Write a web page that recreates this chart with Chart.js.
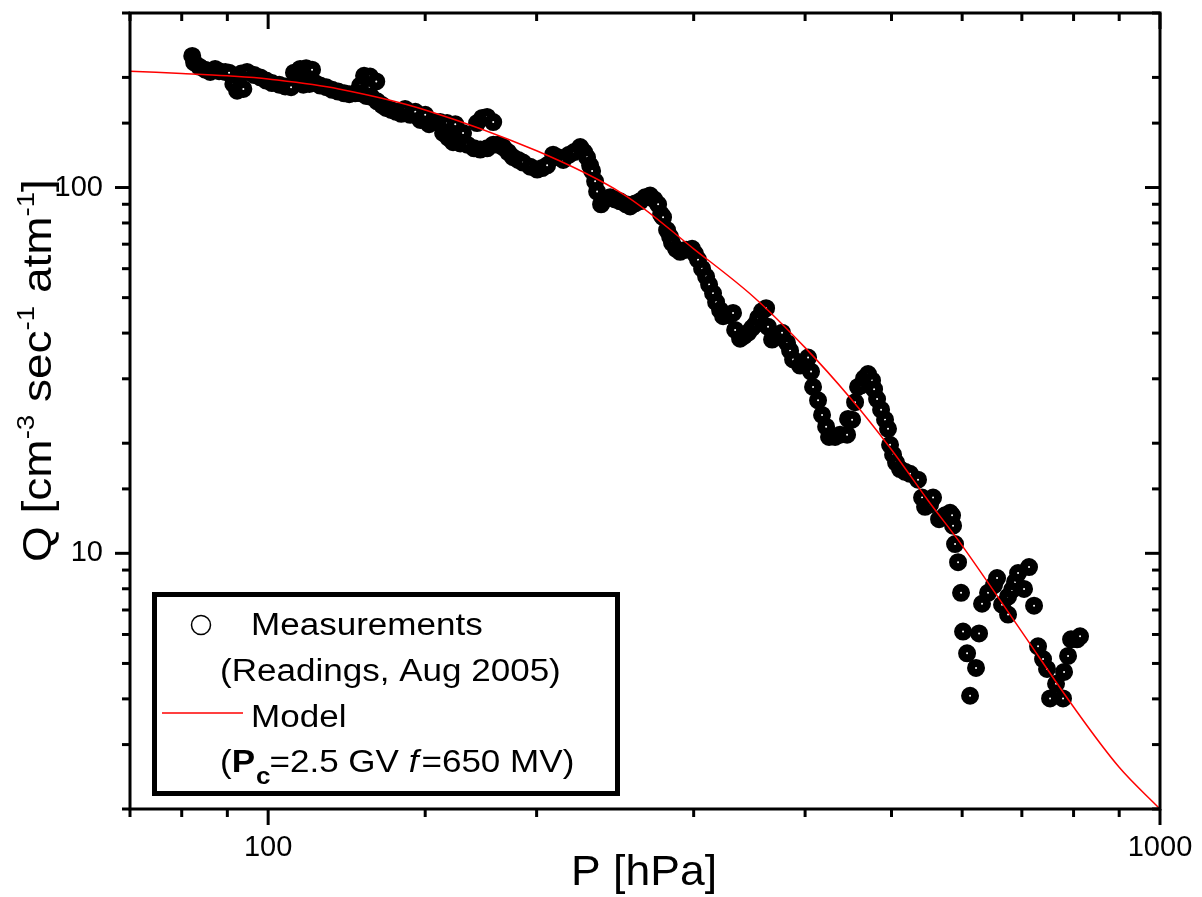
<!DOCTYPE html>
<html>
<head>
<meta charset="utf-8">
<script src="https://cdn.jsdelivr.net/npm/chart.js@4.4.0/dist/chart.umd.min.js"></script>
<style>
  html, body { margin: 0; padding: 0; background: #fff; }
</style>
</head>
<body>
<canvas id="myChart" width="1202" height="897"></canvas>
<script>
// measurements: pressure [hPa] and count rate Q [cm-3 sec-1 atm-1]
const pressure = [
  82.2, 82.6, 83.7, 85.0, 86.1, 87.2, 88.1, 89.5, 90.4, 91.4,
  92.3, 93.8, 93.3, 94.7, 96.5, 98.0, 99.5, 101.0, 102.9, 104.5,
  106.1, 106.9, 108.6, 110.3, 112.0, 109.5, 111.2, 112.9, 114.4, 116.2,
  118.0, 119.8, 121.7, 123.3, 125.2, 126.8, 128.1, 130.1, 132.2, 127.1,
  128.8, 130.5, 132.5, 134.2, 135.6, 137.4, 139.2, 141.0, 142.4, 144.3,
  146.2, 148.1, 150.0, 151.5, 153.9, 155.9, 158.7, 162.1, 165.4, 157.1,
  159.2, 161.2, 164.2, 167.2, 170.2, 172.9, 171.5, 173.8, 176.0, 178.8,
  176.0, 178.8, 181.1, 183.4, 185.8, 188.2, 190.7, 193.1, 196.7, 200.3,
  202.9, 205.5, 208.7, 211.4, 214.2, 217.5, 220.3, 223.8, 226.1, 227.8,
  229.6, 230.8, 232.6, 233.8, 236.2, 238.7, 241.8, 244.9, 248.1, 252.0,
  254.6, 257.9, 261.2, 264.6, 268.1, 270.9, 273.7, 275.8, 277.2, 280.1,
  282.3, 283.7, 286.7, 289.7, 294.2, 298.8, 301.1, 303.4, 306.6, 309.8,
  312.2, 315.4, 317.9, 321.2, 323.7, 327.9, 332.1, 333.9, 338.2, 341.7,
  345.3, 348.8, 351.5, 354.3, 358.0, 361.7, 363.5, 367.3, 372.1, 376.9,
  381.8, 384.8, 387.8, 394.8, 398.9, 403.1, 406.2, 408.3, 413.6, 417.9,
  422.3, 425.5, 432.2, 437.8, 445.8, 446.9, 451.6, 455.1, 458.6, 462.2,
  465.8, 470.6, 475.5, 478.0, 481.7, 486.7, 491.7, 495.5, 498.1, 502.0,
  505.9, 511.1, 517.8, 524.5, 535.4, 541.0, 545.2, 552.3, 556.6, 565.3,
  574.1, 581.6, 584.6, 586.1, 589.1, 593.7, 598.3, 601.4, 607.7, 612.4,
  621.9, 626.8, 631.6, 641.5, 651.5, 656.6, 665.1, 675.5, 675.5, 682.5,
  687.8, 693.2, 704.0, 713.1, 722.4, 729.9, 739.4, 747.0, 752.9, 764.6,
  778.5, 780.6, 788.7, 794.8, 807.2, 813.5
];
const rate = [
  229, 220, 214, 210, 207, 211, 208, 207, 206, 192,
  184, 186, 205, 207, 203, 200, 196, 193, 191, 189,
  188, 206, 211, 212, 210, 191, 192, 193, 190, 188,
  185, 183, 181, 180, 181, 190, 202, 201, 195, 181,
  178, 177, 172, 168, 165, 163, 161, 159, 164, 158,
  161, 153, 158, 149, 151, 151, 150, 149, 141, 141,
  137, 133, 132, 131, 128, 127, 150, 155, 156, 151,
  128, 131, 131, 129, 125, 121, 119, 117, 114, 112,
  113, 115, 123, 121, 119, 123, 125, 129, 125, 121,
  115, 111, 104, 97.5, 90.0, 92.8, 94.0, 92.8, 91.7, 90.0,
  88.8, 90.5, 91.7, 94.0, 95.1, 92.8, 90.0, 84.5, 83.0, 76.5,
  73.3, 70.6, 68.0, 66.7, 67.6, 68.0, 65.9, 63.5, 60.0, 57.1,
  54.3, 51.4, 48.6, 46.2, 44.5, 44.8, 45.4, 40.8, 38.6, 39.3,
  40.1, 41.3, 42.1, 44.0, 45.9, 46.8, 41.6, 38.4, 39.1, 40.1,
  37.6, 35.8, 33.9, 32.6, 33.2, 34.3, 31.4, 28.5, 26.2, 23.9,
  22.2, 20.8, 20.8, 21.1, 21.1, 23.3, 23.2, 25.9, 28.5, 28.8,
  30.1, 30.9, 29.7, 28.1, 26.4, 24.7, 23.2, 21.9, 19.8, 18.6,
  17.7, 17.0, 16.7, 16.5, 15.9, 14.2, 13.4, 13.6, 14.2, 12.4,
  12.7, 12.9, 12.7, 11.9, 10.6, 9.46, 7.80, 6.11, 5.33, 4.08,
  4.86, 6.04, 7.28, 7.80, 8.19, 8.56, 7.24, 7.61, 6.80, 7.94,
  8.35, 8.83, 7.99, 9.17, 7.19, 5.57, 5.14, 4.83, 4.01, 4.40,
  4.01, 4.74, 5.24, 5.82, 5.82, 5.93
];

// model curve (Pc=2.5 GV, f=650 MV)
const modelPressure = [70, 80, 90, 100, 120, 150, 200, 250, 300, 350, 400, 450, 500, 550, 600, 700, 800, 900, 1000];
const modelRate = [208, 205, 202, 198, 186, 163, 126, 96, 68, 50.3, 36.5, 26.5, 19.2, 13.9, 10.5, 6.1, 3.8, 2.6, 2.0];

const xTickLabels = [100, 1000];
const yTickLabels = [10, 100];

const FONT = "'Liberation Sans', Arial, sans-serif";

function isDecade(v) {
  let l = Math.log10(v);
  return Math.abs(l - Math.round(l)) < 1e-6;
}
function hasLabel(list, v) {
  return list.some(t => Math.abs(t - v) / t < 1e-6);
}

// draw text squeezed/stretched along its direction
function wideText(ctx, str, x, y, sx) {
  ctx.save();
  ctx.translate(x, y);
  ctx.scale(sx, 1);
  ctx.fillText(str, 0, 0);
  ctx.restore();
  return ctx.measureText(str).width * sx;
}

function line(ctx, x1, y1, x2, y2) {
  ctx.beginPath();
  ctx.moveTo(x1, y1);
  ctx.lineTo(x2, y2);
  ctx.stroke();
}

const framePlugin = {
  id: 'frame',
  beforeDraw(chart) {
    let ctx = chart.ctx;
    ctx.save();
    ctx.fillStyle = '#fff';
    ctx.fillRect(0, 0, chart.width, chart.height);
    ctx.restore();
  },
  afterDraw(chart) {
    let ctx = chart.ctx, a = chart.chartArea, xs = chart.scales.x, ys = chart.scales.y;
    ctx.save();
    ctx.strokeStyle = '#000';
    ctx.lineWidth = 3;
    ctx.strokeRect(a.left, a.top, a.right - a.left, a.bottom - a.top);

    xs.ticks.forEach(t => {
      let px = xs.getPixelForValue(t.value);
      let len = isDecade(t.value) ? 16 : 8;
      line(ctx, px, a.bottom, px, a.bottom + len);
      line(ctx, px, a.top, px, a.top + len);
    });
    ys.ticks.forEach(t => {
      let py = ys.getPixelForValue(t.value);
      let len = isDecade(t.value) ? 15 : 8;
      line(ctx, a.left - len, py, a.left, py);
      line(ctx, a.right - len, py, a.right, py);
    });

    // legend
    ctx.fillStyle = '#fff';
    ctx.fillRect(154, 594, 464, 200);
    ctx.lineWidth = 5;
    ctx.strokeRect(154.5, 594.5, 463, 199);

    ctx.lineWidth = 1.5;
    ctx.beginPath();
    ctx.arc(201, 625, 9.5, 0, Math.PI * 2);
    ctx.stroke();

    ctx.strokeStyle = '#ff0000';
    ctx.lineWidth = 1.5;
    line(ctx, 162, 713, 243, 713);

    ctx.fillStyle = '#000';
    ctx.textAlign = 'left';
    ctx.textBaseline = 'alphabetic';
    let sx = 1.13;
    ctx.font = '31px ' + FONT;
    wideText(ctx, 'Measurements', 251, 635, sx);
    wideText(ctx, '(Readings, Aug 2005)', 220, 681, sx);
    wideText(ctx, 'Model', 251, 727, sx);

    let x = 220;
    x += wideText(ctx, '(', x, 772, sx);
    ctx.font = 'bold 31px ' + FONT;
    x += wideText(ctx, 'P', x, 772, sx);
    ctx.font = 'bold 23px ' + FONT;
    x += wideText(ctx, 'c', x + 1, 784, sx);
    ctx.font = '31px ' + FONT;
    x += wideText(ctx, '=2.5 GV ', x, 772, sx);
    ctx.font = 'italic 31px ' + FONT;
    x += wideText(ctx, 'f', x, 772, sx) + 3;
    ctx.font = '31px ' + FONT;
    wideText(ctx, '=650 MV)', x, 772, sx);

    // x axis title
    ctx.font = '42px ' + FONT;
    ctx.textAlign = 'center';
    wideText(ctx, 'P [hPa]', 644, 885, 1.06);

    // y axis title, rotated
    ctx.save();
    ctx.translate(51, 562);
    ctx.rotate(-Math.PI / 2);
    ctx.textAlign = 'left';
    let parts = [
      ['Q [cm', 0], ['-3', 1], [' sec', 0], ['-1', 1], [' atm', 0], ['-1', 1], [']', 0]
    ];
    let tx = 0;
    parts.forEach(p => {
      if (p[1]) {
        ctx.font = '24px ' + FONT;
        tx += wideText(ctx, p[0], tx, -17, 1.15);
      } else {
        ctx.font = '40px ' + FONT;
        tx += wideText(ctx, p[0], tx, 0, 1.15);
      }
    });
    ctx.restore();

    ctx.restore();
  }
};

let ctx = document.getElementById('myChart').getContext('2d');
let myChart = new Chart(ctx, {
  type: 'scatter',
  data: {
    datasets: [{
      type: 'line',
      label: 'Model',
      data: modelPressure.map((p, i) => ({x: p, y: modelRate[i]})),
      borderColor: '#ff0000',
      borderWidth: 1.5,
      pointRadius: 0,
      tension: 0.35,
      fill: false,
      order: 0
    }, {
      label: 'Measurements',
      data: pressure.map((p, i) => ({x: p, y: rate[i]})),
      pointRadius: 5,
      borderWidth: 8,
      borderColor: '#000',
      backgroundColor: '#fff',
      order: 1
    }]
  },
  options: {
    responsive: false,
    animation: false,
    layout: { padding: { top: 8, right: 42, left: 0, bottom: 0 } },
    plugins: { legend: { display: false }, tooltip: { enabled: false } },
    scales: {
      x: {
        type: 'logarithmic',
        position: 'bottom',
        min: 70,
        max: 1000,
        grid: { display: false, drawTicks: false },
        border: { display: false },
        ticks: {
          autoSkip: false,
          minRotation: 0,
          maxRotation: 0,
          padding: 22,
          color: '#000',
          font: { family: FONT, size: 29 },
          callback: v => hasLabel(xTickLabels, v) ? String(Math.round(v)) : ''
        },
        afterFit: s => { s.height = 88; s.paddingLeft = 0; s.paddingRight = 0; }
      },
      y: {
        type: 'logarithmic',
        position: 'left',
        min: 2,
        max: 300,
        grid: { display: false, drawTicks: false },
        border: { display: false },
        ticks: {
          autoSkip: false,
          padding: 27,
          color: '#000',
          font: { family: FONT, size: 29 },
          callback: v => hasLabel(yTickLabels, v) ? String(Math.round(v)) : ''
        },
        afterFit: s => { s.width = 130; s.paddingTop = 0; s.paddingBottom = 0; }
      }
    }
  },
  plugins: [framePlugin]
});
</script>
</body>
</html>
